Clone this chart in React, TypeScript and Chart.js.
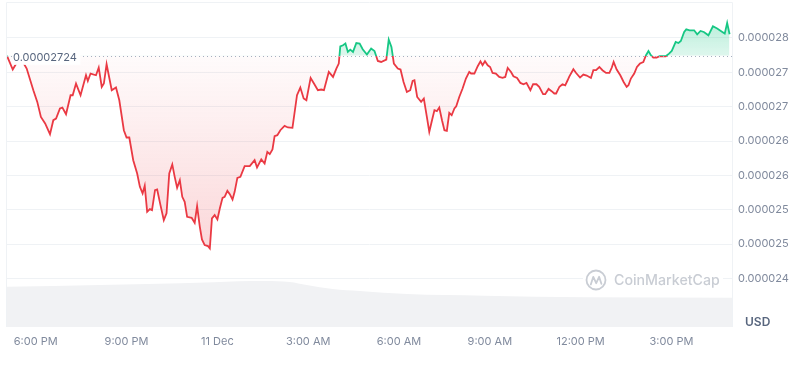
import React, { useEffect, useRef } from "react";
import { Chart, registerables } from "chart.js";

Chart.register(...registerables);

// time in hours since 00:00 of 10 Dec (18 = 6:00 PM, 24 = 11 Dec 00:00)
const priceTimes = [
  17.05, 17.24, 17.42, 17.58, 17.7, 17.92, 18.05, 18.17, 18.31, 18.47, 18.58, 18.67, 18.8, 18.88, 19.0, 19.15, 19.22,
  19.33, 19.48, 19.66, 19.72, 19.81, 19.99, 20.08, 20.18, 20.25, 20.34, 20.51, 20.65, 20.76, 20.91, 21.0, 21.09, 21.22,
  21.35, 21.44, 21.53, 21.6, 21.68, 21.77, 21.84, 21.94, 22.01, 22.12, 22.23, 22.32, 22.41, 22.51, 22.59, 22.67, 22.76,
  22.84, 22.92, 23.0, 23.15, 23.25, 23.33, 23.42, 23.49, 23.58, 23.69, 23.75, 23.82, 23.91, 24.0, 24.08, 24.17, 24.24,
  24.33, 24.41, 24.5, 24.57, 24.66, 24.76, 24.9, 25.07, 25.23, 25.31, 25.45, 25.56, 25.65, 25.73, 25.82, 25.89, 25.98,
  26.08, 26.22, 26.33, 26.48, 26.63, 26.74, 26.85, 26.94, 27.08, 27.19, 27.32, 27.43, 27.52, 27.68, 27.82, 27.93, 28.01,
  28.06, 28.15, 28.23, 28.31, 28.39, 28.48, 28.59, 28.7, 28.8, 28.94, 29.08, 29.19, 29.3, 29.41, 29.58, 29.66, 29.75,
  29.83, 29.96, 30.05, 30.15, 30.26, 30.37, 30.45, 30.51, 30.6, 30.73, 30.82, 30.92, 31.0, 31.09, 31.17, 31.25, 31.33,
  31.42, 31.5, 31.58, 31.66, 31.74, 31.83, 31.89, 31.99, 32.1, 32.21, 32.32, 32.38, 32.49, 32.6, 32.69, 32.76, 32.84,
  32.93, 33.01, 33.09, 33.2, 33.31, 33.42, 33.51, 33.59, 33.7, 33.78, 33.9, 34.01, 34.11, 34.21, 34.34, 34.43, 34.54,
  34.63, 34.76, 34.83, 34.94, 35.03, 35.13, 35.19, 35.3, 35.4, 35.49, 35.57, 35.62, 35.76, 35.85, 35.98, 36.09, 36.2,
  36.34, 36.42, 36.51, 36.62, 36.72, 36.84, 36.95, 37.03, 37.09, 37.19, 37.31, 37.42, 37.52, 37.58, 37.66, 37.77, 37.86,
  37.96, 38.07, 38.16, 38.24, 38.32, 38.4, 38.51, 38.61, 38.72, 38.81, 38.92, 39.01, 39.14, 39.23, 39.31, 39.42, 39.49,
  39.6, 39.75, 39.85, 39.96, 40.07, 40.22, 40.37, 40.51, 40.68, 40.76, 40.84, 40.92,
];

// price in micro-USD (1e-6 USD)
const priceValues = [
  27.24, 27.041, 27.176, 27.147, 27.055, 26.74, 26.57, 26.352, 26.256, 26.1, 26.304, 26.328, 26.474, 26.488, 26.391,
  26.667, 26.667, 26.837, 26.667, 26.958, 26.875, 26.983, 26.958, 27.07, 26.788, 26.837, 27.118, 26.74, 26.779, 26.594,
  26.158, 26.052, 26.052, 25.722, 25.529, 25.334, 25.238, 25.349, 24.971, 25.01, 24.996, 25.286, 25.296, 25.068, 24.85,
  24.948, 25.529, 25.66, 25.48, 25.32, 25.432, 25.189, 25.116, 24.898, 24.884, 24.811, 25.054, 24.753, 24.57, 24.487,
  24.472, 24.439, 24.875, 24.923, 24.86, 25.02, 25.174, 25.189, 25.276, 25.228, 25.151, 25.262, 25.465, 25.48, 25.635,
  25.635, 25.722, 25.616, 25.733, 25.674, 25.843, 25.81, 25.878, 26.071, 26.086, 26.158, 26.221, 26.198, 26.192, 26.667,
  26.779, 26.619, 26.594, 26.919, 26.837, 26.74, 26.75, 26.74, 27.006, 26.933, 27.055, 27.128, 27.379, 27.394, 27.419,
  27.297, 27.331, 27.297, 27.427, 27.419, 27.336, 27.259, 27.346, 27.311, 27.166, 27.151, 27.186, 27.477, 27.369, 27.128,
  27.055, 27.041, 26.86, 26.715, 26.74, 26.875, 26.885, 26.642, 26.57, 26.619, 26.352, 26.134, 26.304, 26.449, 26.435,
  26.488, 26.304, 26.158, 26.148, 26.41, 26.376, 26.474, 26.507, 26.642, 26.765, 26.91, 27.006, 26.983, 26.983, 27.089,
  27.161, 27.103, 27.161, 27.103, 27.078, 26.991, 26.983, 26.933, 26.919, 26.933, 27.064, 27.006, 26.943, 26.919, 26.846,
  26.827, 26.846, 26.74, 26.827, 26.827, 26.788, 26.682, 26.682, 26.759, 26.73, 26.692, 26.692, 26.791, 26.827, 26.812,
  26.885, 26.935, 27.045, 26.991, 26.924, 26.968, 26.953, 26.919, 27.031, 27.031, 27.078, 27.031, 26.991, 26.991, 27.07,
  27.151, 27.041, 26.958, 26.86, 26.788, 26.812, 26.91, 26.983, 27.078, 27.128, 27.151, 27.249, 27.311, 27.249, 27.215,
  27.215, 27.234, 27.234, 27.234, 27.273, 27.311, 27.442, 27.427, 27.456, 27.587, 27.626, 27.612, 27.612, 27.554, 27.602,
  27.587, 27.539, 27.67, 27.637, 27.587, 27.564, 27.718, 27.554,
];

const baseValue = 27.24;
const baseLabel = "0.00002724";

// relative 24h volume (arbitrary units)
const volumeTimes = [17.05, 20.12, 21.7, 23.88, 24.7, 25.56, 26.39, 26.95, 27.81, 28.7, 30.27, 32.81, 34.5, 36.18, 41.0];
const volumeValues = [12.4, 12.95, 13.26, 13.8, 14.1, 14.18, 13.88, 12.95, 11.72, 11.1, 10.18, 9.65, 9.34, 9.16, 9.03];

const yTickValues = [27.5, 27.0, 26.5, 26.0, 25.5, 25.0, 24.5, 24.0];
const yTickLabels = ["0.000028", "0.000027", "0.000027", "0.000026", "0.000026", "0.000025", "0.000025", "0.000024"];
const xTickValues = [18, 21, 24, 27, 30, 33, 36, 39];
const xTickLabels = ["6:00 PM", "9:00 PM", "11 Dec", "3:00 AM", "6:00 AM", "9:00 AM", "12:00 PM", "3:00 PM"];

const GREEN = "#16c784";
const RED = "#ea3943";
const GRID = "#eff2f5";
const FONT = "Inter";

const overlayPlugin = {
  id: "overlay",
  beforeDatasetsDraw(chart: any) {
    const { ctx } = chart;
    ctx.save();
    // watermark
    ctx.fillStyle = "#ffffff";
    ctx.fillRect(583, 268, 140, 24);
    ctx.strokeStyle = "#c9cdd4";
    ctx.lineWidth = 1.8;
    ctx.beginPath();
    ctx.arc(596, 280, 9.5, 0, Math.PI * 2);
    ctx.stroke();
    ctx.beginPath();
    ctx.lineJoin = "round";
    ctx.lineCap = "round";
    ctx.moveTo(590.8, 284.5);
    ctx.lineTo(593.3, 276.8);
    ctx.lineTo(596.2, 283.2);
    ctx.lineTo(599.1, 276.8);
    ctx.lineTo(601.4, 283.8);
    ctx.stroke();
    ctx.fillStyle = "#c9cdd4";
    ctx.font = `500 14.2px ${FONT}`;
    ctx.textAlign = "left";
    ctx.textBaseline = "middle";
    ctx.fillText("CoinMarketCap", 614, 281);
    ctx.restore();
  },
  afterDatasetsDraw(chart: any) {
    const { ctx, chartArea: a, scales } = chart;
    const yb = scales.y.getPixelForValue(baseValue);
    ctx.save();
    ctx.strokeStyle = "#a6afbf";
    ctx.lineWidth = 1;
    ctx.setLineDash([1, 3]);
    ctx.beginPath();
    ctx.moveTo(a.left, Math.round(yb) + 0.5);
    ctx.lineTo(a.right, Math.round(yb) + 0.5);
    ctx.stroke();
    ctx.setLineDash([]);
    ctx.font = `11px ${FONT}`;
    const w = ctx.measureText(baseLabel).width;
    ctx.fillStyle = "#ffffff";
    ctx.fillRect(a.left + 5.5, yb - 7, w + 4, 16);
    ctx.fillStyle = "#58667e";
    ctx.textAlign = "left";
    ctx.textBaseline = "middle";
    ctx.fillText(baseLabel, a.left + 6, yb + 1.8);
    ctx.restore();
  },
  afterDraw(chart: any) {
    const { ctx, chartArea: a } = chart;
    ctx.save();
    ctx.strokeStyle = GRID;
    ctx.lineWidth = 1;
    ctx.beginPath();
    ctx.moveTo(a.left - 0.5, a.bottom);
    ctx.lineTo(a.left - 0.5, a.top - 0.5);
    ctx.lineTo(a.right + 0.5, a.top - 0.5);
    ctx.lineTo(a.right + 0.5, a.bottom);
    ctx.stroke();
    ctx.fillStyle = "#58667e";
    ctx.font = `600 12px ${FONT}`;
    ctx.textAlign = "left";
    ctx.textBaseline = "middle";
    ctx.fillText("USD", a.right + 13, 322);
    ctx.restore();
  },
};

export default function App() {
  const ref = useRef<HTMLCanvasElement | null>(null);

  useEffect(() => {
    const canvas = ref.current;
    if (!canvas) return;
    const chart = new Chart(canvas, {
      type: "line",
      data: {
        datasets: [
          {
            data: priceTimes.map((t, i) => ({ x: t, y: priceValues[i] })),
            yAxisID: "y",
            borderColor: RED,
            borderWidth: 1.8,
            pointRadius: 0,
            tension: 0,
            fill: { target: { value: baseValue }, above: "rgba(22,199,132,0.25)", below: "rgba(234,57,67,0.08)" },
          },
          {
            data: volumeTimes.map((t, i) => ({ x: t, y: volumeValues[i] })),
            yAxisID: "y2",
            borderWidth: 0,
            borderColor: "rgba(0,0,0,0)",
            backgroundColor: "#f1f2f4",
            pointRadius: 0,
            cubicInterpolationMode: "monotone",
            fill: "origin",
          },
        ],
      } as any,
      options: {
        animation: false,
        responsive: false,
        maintainAspectRatio: false,
        layout: { padding: { left: 7, top: 3, right: 0, bottom: 0 } },
        plugins: { legend: { display: false }, tooltip: { enabled: false } },
        scales: {
          x: {
            type: "linear",
            min: 17.05,
            max: 41.0,
            grid: { display: false, drawTicks: false },
            border: { display: false },
            afterBuildTicks: (s: any) => {
              s.ticks = xTickValues.map((v) => ({ value: v }));
            },
            afterFit: (s: any) => {
              s.height = 38;
              s.paddingLeft = 0;
              s.paddingRight = 0;
            },
            ticks: {
              autoSkip: false,
              maxRotation: 0,
              padding: 8,
              color: "#808a9d",
              font: { family: FONT, size: 11 },
              callback: (v: any) => xTickLabels[xTickValues.indexOf(Number(v))] ?? "",
            },
          },
          y: {
            type: "linear",
            position: "right",
            min: 23.295,
            max: 28.009,
            grid: { color: GRID, lineWidth: 1, drawTicks: false },
            border: { display: false },
            afterBuildTicks: (s: any) => {
              s.ticks = yTickValues.map((v) => ({ value: v }));
            },
            afterFit: (s: any) => {
              s.width = 68;
              s.paddingTop = 0;
              s.paddingBottom = 0;
            },
            ticks: {
              padding: 6,
              color: "#808a9d",
              font: { family: FONT, size: 11 },
              callback: (v: any) => yTickLabels[yTickValues.indexOf(Number(v))] ?? "",
            },
          },
          y2: { type: "linear", display: false, min: 0, max: 100 },
        },
      } as any,
      plugins: [overlayPlugin],
    });

    const { chartArea: a, scales } = chart as any;
    const ctx = canvas.getContext("2d")!;
    const yb = scales.y.getPixelForValue(baseValue);
    const yLow = scales.y.getPixelForValue(Math.min(...priceValues));
    const green = ctx.createLinearGradient(0, a.top, 0, yb);
    green.addColorStop(0, "rgba(22,199,132,0.38)");
    green.addColorStop(1, "rgba(22,199,132,0.14)");
    const red = ctx.createLinearGradient(0, yb, 0, yLow);
    red.addColorStop(0, "rgba(234,57,67,0.02)");
    red.addColorStop(1, "rgba(234,57,67,0.2)");
    const stop = Math.min(1, Math.max(0, (yb - a.top) / (a.bottom - a.top)));
    const line = ctx.createLinearGradient(0, a.top, 0, a.bottom);
    line.addColorStop(0, GREEN);
    line.addColorStop(stop, GREEN);
    line.addColorStop(stop, RED);
    line.addColorStop(1, RED);
    const ds: any = chart.data.datasets[0];
    ds.borderColor = line;
    ds.fill = { target: { value: baseValue }, above: green, below: red };
    chart.update();

    return () => chart.destroy();
  }, []);

  return (
    <div style={{ position: "fixed", left: 0, top: 0, width: 800, height: 365, background: "#ffffff" }}>
      <canvas ref={ref} width={800} height={365} style={{ display: "block", width: 800, height: 365 }} />
    </div>
  );
}
